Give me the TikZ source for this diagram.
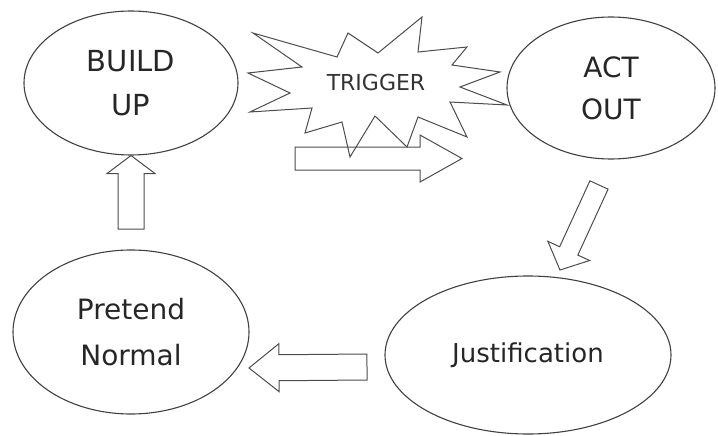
\documentclass[tikz,border=0pt]{standalone}
\usepackage{fontspec}
\setmainfont{DejaVu Sans}
\usetikzlibrary{shapes.geometric,calc}
\tikzset{stage/.style = {shape=ellipse,draw=black!75,line width=1.1pt,inner sep=0pt,align=center,text=black!85}}
\tikzset{blockarrow/.style = {draw=black!70,line width=1pt,line join=miter}}
\tikzset{burst/.style = {draw=black!70,line width=1pt}}

% fat outline arrow: tail, tip, shaft half width, head half width, head length
\newcommand{\fatarrow}[5]{%
  \coordinate (fabase) at ($(#2)!#5!(#1)$);
  \draw[blockarrow] ($(#1)!#3!90:(#2)$) -- ($(fabase)!#3!90:(#2)$) -- ($(fabase)!#4!90:(#2)$) -- (#2)
    -- ($(fabase)!#4!-90:(#2)$) -- ($(fabase)!#3!-90:(#2)$) -- ($(#1)!#3!-90:(#2)$) -- cycle;}

\begin{document}
\begin{tikzpicture}[x=1pt,y=-1pt]
  \useasboundingbox (0,0) rectangle (718,436);

  \node[stage, minimum width=214pt, minimum height=144pt, font=\fontsize{29}{44}\selectfont] (build) at (131,83) {BUILD\\UP};
  \node[stage, minimum width=208pt, minimum height=142pt, font=\fontsize{28}{42}\selectfont] (act) at (611,88) {ACT\\OUT};
  \node[stage, minimum width=236pt, minimum height=164pt, font=\fontsize{28}{46}\selectfont] (pretend) at (131,332) {Pretend\\Normal};
  \node[stage, minimum width=286pt, minimum height=158pt, font=\fontsize{26}{30}\selectfont] (just) at (528,355) {\raisebox{-6pt}{Justification}};

  % the burst
  \draw[burst] (253,33) -- (337,57) -- (348,33) -- (378,53) -- (422,17) -- (418,52)
    -- (467,47) -- (452,65) -- (500,72) -- (460,87) -- (507,105) -- (450,102)
    -- (467,137) -- (418,117) -- (407,147) -- (375,116) -- (350,157) -- (342,122)
    -- (305,133) -- (312,108) -- (250,112) -- (290,93) -- (248,73) -- (302,67) -- cycle;
  \node[font=\fontsize{22}{26}\selectfont, text=black!80] (trigger) at (376,82) {TRIGGER};

  \coordinate (goTail) at (295,158.5);
  \coordinate (goTip) at (462,158.5);
  \coordinate (upTail) at (131,229);
  \coordinate (downTail) at (599,185);
  \coordinate (downTip) at (560,270);
  \coordinate (backTail) at (367,367);
  \coordinate (backTip) at (249,368);

  \fatarrow{goTail}{goTip}{11.5pt}{23.5pt}{42pt}
  \fatarrow{upTail}{build.south}{13pt}{24pt}{18pt}
  \fatarrow{downTail}{downTip}{10pt}{23pt}{21pt}
  \fatarrow{backTail}{backTip}{13pt}{24pt}{30pt}
\end{tikzpicture}
\end{document}
